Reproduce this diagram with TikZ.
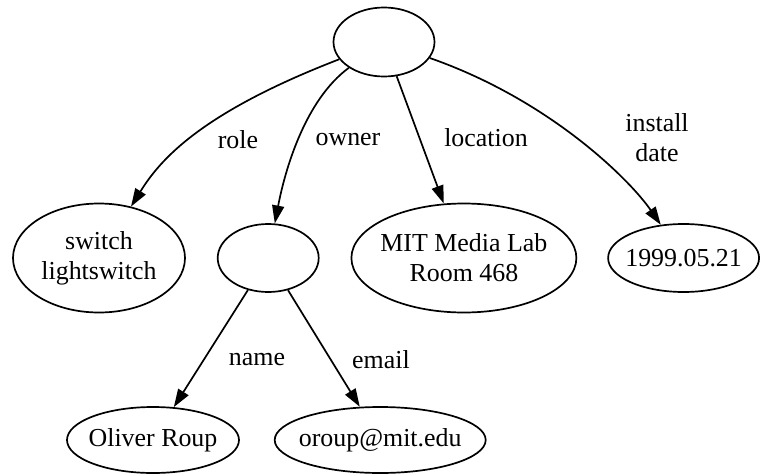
\documentclass[tikz,border=0pt]{standalone}
\usepackage{fontspec}
\setmainfont{Liberation Serif}
\usetikzlibrary{positioning,arrows.meta,shapes.geometric}

\begin{document}
\begin{tikzpicture}[
    x=1pt, y=-1pt,
    node distance=31pt,
    blank/.style={ellipse, draw, line width=1.7pt, inner sep=0pt,
        minimum width=101pt, minimum height=68pt},
    val/.style={ellipse, draw, line width=1.7pt, inner xsep=-8pt, inner ysep=0pt, align=center,
        font=\fontsize{25.9}{30}\selectfont},
    lbl/.style={align=center, inner sep=0pt, font=\fontsize{25.9}{30}\selectfont},
    arrow/.style={-{Triangle[length=18pt, width=12pt]}, line width=1.7pt}
]
    \useasboundingbox (0,0) rectangle (761,474);

    \node[blank, minimum height=69pt] (root) at (384,42) {};
    \node[val, minimum width=172pt, minimum height=109pt] (sw) at (99,258) {switch\\lightswitch};
    \node[blank, right=of sw] (own) {};
    \node[val, right=of own, minimum width=225pt, minimum height=109pt] (mit) {MIT Media Lab\\Room 468};
    \node[val, right=30pt of mit, minimum width=151pt, minimum height=68pt] (date) {1999.05.21};
    \node[val, minimum width=172pt, minimum height=66pt] (oli) at (153,440) {Oliver Roup};
    \node[val, right=34pt of oli, minimum width=211pt, minimum height=66pt] (mail) {oroup@mit.edu};

    \node[lbl] (lrole) at (238,140) {role};
    \node[lbl] (lown) at (348,140) {owner};
    \node[lbl] (lloc) at (486,138) {location};
    \node[lbl] (ldate) at (657,138) {install\\date};
    \node[lbl] (lname) at (257,360) {name};
    \node[lbl] (lmail) at (381,360) {email};

    \draw[arrow] (root) .. controls (200,113) and (160,160) .. (sw);
    \draw[arrow] (root) .. controls (305,100) and (285,170) .. (own);
    \draw[arrow] (root) -- (mit);
    \draw[arrow] (root) .. controls (550,100) and (630,180) .. (date);
    \draw[arrow] (own) -- (oli);
    \draw[arrow] (own) -- (mail);
\end{tikzpicture}
\end{document}
